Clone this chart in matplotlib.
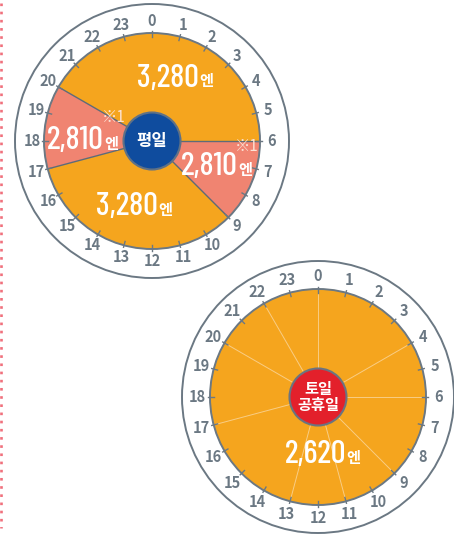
import numpy as np
import matplotlib
matplotlib.use("Agg")
import matplotlib.pyplot as plt
from matplotlib.patches import Wedge, Circle

plt.rcParams['font.family'] = ['Noto Sans CJK KR', 'DejaVu Sans']

# data
hours = list(range(24))
weekday_start = [20, 6, 9, 17]
weekday_end = [30, 9, 17, 20]
weekday_fare = [3280, 2810, 3280, 2810]
weekday_label = "평일"
holiday_fare = 2620
holiday_dividers = [0, 4, 6, 9, 11, 13, 17, 20, 22]
holiday_label = "토일\n공휴일"
note = "※1"

ORANGE = '#F5A51E'
PINK = '#F08471'
GRAY = '#6B7883'
NAVY = '#0F4C9E'
RED = '#E3202B'
H = 541

fig = plt.figure(figsize=(4.54, 5.41), dpi=100)
ax = fig.add_axes([0, 0, 1, 1])
ax.set_xlim(0, 454)
ax.set_ylim(0, H)
ax.set_aspect('equal')
ax.axis('off')


def ang(h):
    return 90 - 15 * h


def clock(cx, cy, r_out, r_pie, r_lab):
    cy = H - cy
    ax.add_patch(Circle((cx, cy), r_out, facecolor='white', edgecolor=GRAY, lw=1.4, zorder=1))
    for h in hours:
        a = np.radians(ang(h))
        ax.text(cx + r_lab * np.cos(a), cy + r_lab * np.sin(a), str(h), ha='center', va='center',
                fontsize=10.5, fontweight='bold', color=GRAY, zorder=6)
        ax.plot([cx + (r_pie - 4) * np.cos(a), cx + (r_pie + 2) * np.cos(a)],
                [cy + (r_pie - 4) * np.sin(a), cy + (r_pie + 2) * np.sin(a)],
                color=GRAY, lw=1.0, zorder=5)
    return cx, cy


def fare_text(x, y, fare):
    y = H - y
    ax.text(x, y, f"{fare:,}", ha='right', va='center', fontsize=23.5, fontweight='medium',
            family=['Barlow Condensed', 'Roboto Condensed', 'DejaVu Sans'], color='white', zorder=7)
    ax.text(x, y - 3, "엔", ha='left', va='center', fontsize=11, fontweight='bold',
            color='white', zorder=7)


# weekday clock
cx, cy = clock(152, 141, 137, 108, 120)
for s, e, f in zip(weekday_start, weekday_end, weekday_fare):
    c = ORANGE if f == max(weekday_fare) else PINK
    ax.add_patch(Wedge((cx, cy), 108, ang(e), ang(s), facecolor=c, edgecolor='none', zorder=2))
for s in weekday_start:
    a = np.radians(ang(s))
    ax.plot([cx, cx + 108 * np.cos(a)], [cy, cy + 108 * np.sin(a)], color='#5E6B78', lw=1.0, zorder=3)
ax.add_patch(Circle((cx, cy), 108, facecolor='none', edgecolor=GRAY, lw=1.4, zorder=4))
ax.add_patch(Circle((cx, cy), 28.5, facecolor=NAVY, edgecolor='#5F7186', lw=1.5, zorder=6))
ax.text(cx, cy, weekday_label, ha='center', va='center', fontsize=12, fontweight='bold', color='white', zorder=7)

fare_text(199, 78, weekday_fare[0])
fare_text(238, 167, weekday_fare[1])
fare_text(158, 207, weekday_fare[2])
fare_text(104, 141, weekday_fare[3])
ax.text(114, H - 117, note, ha='center', va='center', fontsize=11, color='#FCE3D6', zorder=7)
ax.text(247, H - 146, note, ha='center', va='center', fontsize=11, color='#FCE3D6', zorder=7)

# holiday clock
cx, cy = clock(318, 397, 136, 108, 121)
ax.add_patch(Wedge((cx, cy), 108, 0, 360, facecolor=ORANGE, edgecolor='none', zorder=2))
for h in holiday_dividers:
    a = np.radians(ang(h))
    ax.plot([cx, cx + 108 * np.cos(a)], [cy, cy + 108 * np.sin(a)], color='#F9CD85', lw=0.7, zorder=3)
ax.add_patch(Circle((cx, cy), 108, facecolor='none', edgecolor=GRAY, lw=1.4, zorder=4))
ax.add_patch(Circle((cx, cy), 28.5, facecolor=RED, edgecolor='#6B7480', lw=1.5, zorder=6))
ax.text(cx, cy, holiday_label, ha='center', va='center', fontsize=11, fontweight='bold', color='white',
        linespacing=1.05, zorder=7)
fare_text(346, 455, holiday_fare)

# dotted left border
ax.plot([1.3, 1.3], [H - 3, H - 528], color='#F0707C', lw=1.9, linestyle=(0, (1, 2.1)), zorder=1)

fig.savefig('out.png', dpi=100)
